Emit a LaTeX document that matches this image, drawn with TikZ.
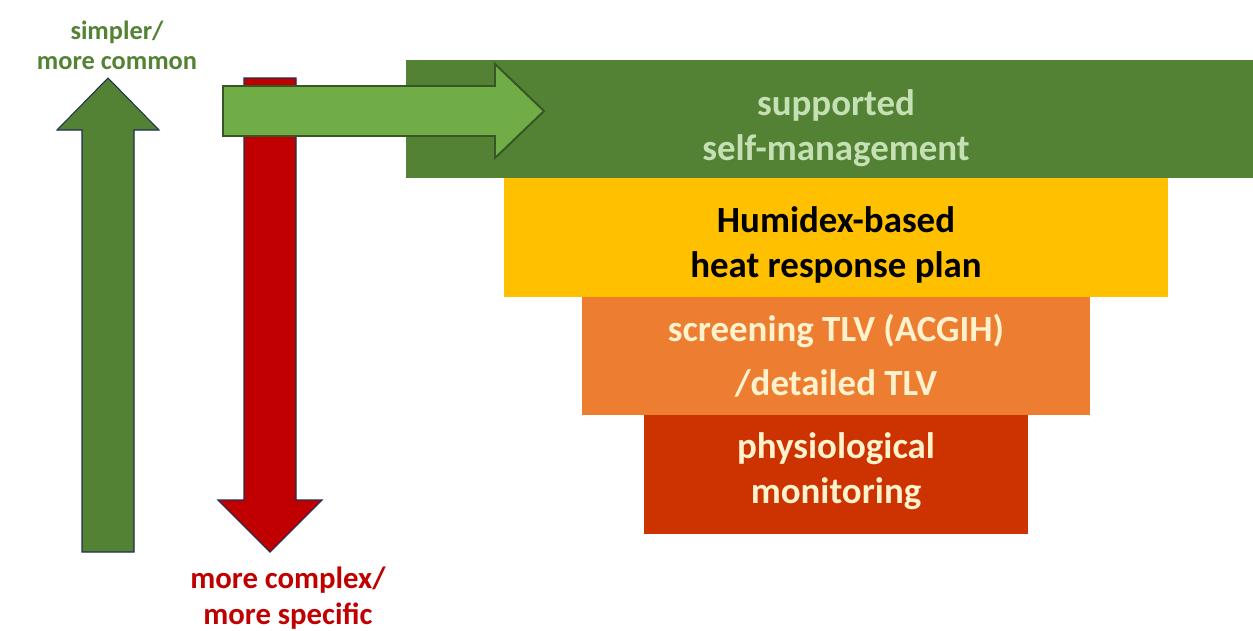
\documentclass[tikz,border=0pt]{standalone}
\usepackage{fontspec}
\setmainfont{Carlito}
\usepackage{tikz}
\usetikzlibrary{positioning}

\definecolor{leafGreen}{HTML}{548235}
\definecolor{lightLeaf}{HTML}{70AD47}
\definecolor{darkLeaf}{HTML}{375623}
\definecolor{paleLeaf}{HTML}{C5E0B4}
\definecolor{goldBox}{HTML}{FFC000}
\definecolor{orangeBox}{HTML}{ED7D31}
\definecolor{rustBox}{HTML}{CC3300}
\definecolor{cream}{HTML}{FFF2CC}
\definecolor{deepRed}{HTML}{C00000}
\definecolor{navyLine}{HTML}{1F2F50}

\begin{document}
\begin{tikzpicture}[x=0.02cm, y=-0.02cm, node distance=0pt,
		tier/.style={rectangle, inner sep=0pt, outer sep=0pt, minimum height=2.37cm},
		tiertext/.style={align=center, inner sep=0pt, font=\bfseries\fontsize{21}{25.5}\selectfont},
		sidelabel/.style={align=center, inner sep=0pt, font=\bfseries\fontsize{15}{17}\selectfont},
		bigarrow/.style={line width=0.6pt, draw=navyLine, line join=miter}]
			\useasboundingbox (0,0) rectangle (1253,630);
			
			\node[tier, fill=goldBox, minimum width=13.28cm] (plan) at (836,237.5) {};
			\node[tier, fill=leafGreen, minimum width=17.2cm, above=of plan] (self) {};
			\node[tier, fill=orangeBox, minimum width=10.16cm, below=of plan] (tlv) {};
			\node[tier, fill=rustBox, minimum width=7.68cm, below=of tlv] (physio) {};
			
			\node[tiertext, text=paleLeaf] (selfText) at ([yshift=-0.18cm]self.center) {supported\\self-management};
			\node[tiertext, text=black] (planText) at ([yshift=-0.15cm]plan.center) {Humidex-based\\heat response plan};
			\node[tiertext, text=cream, font=\bfseries\fontsize{21}{31}\selectfont] (tlvText) at ([yshift=0.01cm]tlv.center) {screening TLV (ACGIH)\\/detailed TLV};
			\node[tiertext, text=cream] (physioText) at ([yshift=0.06cm]physio.center) {physiological\\monitoring};
			
			\draw[bigarrow, fill=leafGreen] (82,552) -- (82,130) -- (57,130) -- (108,78) -- (159,130) -- (134,130) -- (134,552) -- cycle;
			\draw[bigarrow, fill=deepRed] (244,78) -- (296,78) -- (296,500) -- (322,500) -- (270,552) -- (218,500) -- (244,500) -- cycle;
			\draw[bigarrow, draw=darkLeaf, line width=1.1pt, fill=lightLeaf] (223,86) -- (495,86) -- (495,64) -- (544,111) -- (495,158) -- (495,136) -- (223,136) -- cycle;
			
			\node[sidelabel, text=leafGreen] (simpler) at (117,45) {simpler/\\more common};
			\node[sidelabel, text=deepRed, font=\bfseries\fontsize{17.5}{20.5}\selectfont] (complex) at (288,598) {more complex/\\more specific};
			
		\end{tikzpicture}
\end{document}
